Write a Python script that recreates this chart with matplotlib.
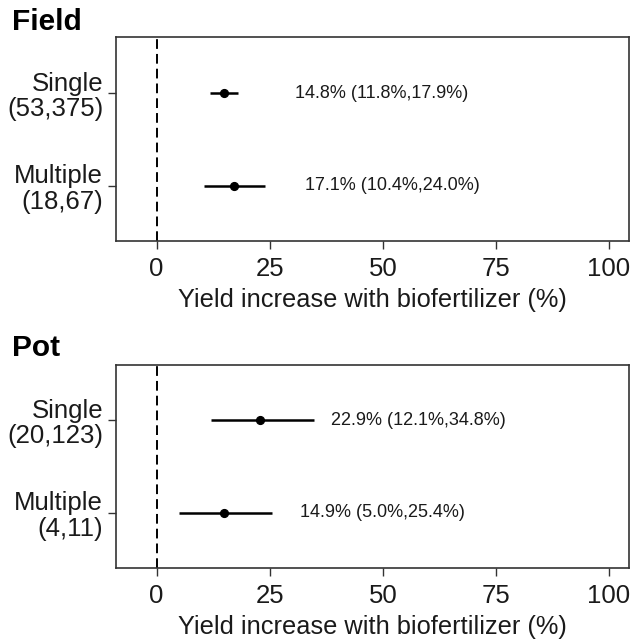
import matplotlib
matplotlib.use("Agg")
import matplotlib.pyplot as plt

plt.rcParams['font.family'] = ['Liberation Sans', 'DejaVu Sans']

# Data
categories = ["Single", "Multiple"]
field_n = ["(53,375)", "(18,67)"]
field_mean = [14.8, 17.1]
field_lo = [11.8, 10.4]
field_hi = [17.9, 24.0]

pot_n = ["(20,123)", "(4,11)"]
pot_mean = [22.9, 14.9]
pot_lo = [12.1, 5.0]
pot_hi = [34.8, 25.4]

xticks = [0, 25, 50, 75, 100]
xlabel = "Yield increase with biofertilizer (%)"

W, H = 631, 641
fig = plt.figure(figsize=(W / 100, H / 100), dpi=100)

ax_h = 0.3175
axes_specs = [
    ("Field", field_n, field_mean, field_lo, field_hi, 0.6240, 0.966),
    ("Pot", pot_n, pot_mean, pot_lo, pot_hi, 0.1134, 0.4576),
]

spine_col = "#333333"
for title, ns, means, los, his, bottom, title_y in axes_specs:
    ax = fig.add_axes([0.1834, bottom, 0.8139, ax_h])
    ys = [2, 1]
    xerr = [[m - l for m, l in zip(means, los)], [h - m for m, h in zip(means, his)]]
    ax.axvline(0, color="black", lw=1.4, linestyle=(0, (5, 2.6)), zorder=1)
    ax.errorbar(means, ys, xerr=xerr, fmt="o", color="black", ms=5.6,
                elinewidth=1.8, capsize=0, zorder=3)
    for m, l, h, y in zip(means, los, his, ys):
        ax.text(m + 35, y, f"{m:.1f}% ({l:.1f}%,{h:.1f}%)", ha="center",
                va="center", fontsize=13, color="#1a1a1a")
    ax.set_xlim(-9.05, 104.5)
    ax.set_ylim(0.4, 2.6)
    ax.set_xticks(xticks)
    ax.set_xticklabels([str(t) for t in xticks])
    ax.set_yticks(ys)
    ax.set_yticklabels([f"{c}\n{n}" for c, n in zip(categories, ns)])
    ax.tick_params(axis="both", labelsize=18.5, length=5.5, width=1.0,
                   color=spine_col, labelcolor="#1a1a1a")
    ax.tick_params(axis="x", pad=6)
    ax.tick_params(axis="y", pad=3.5)
    for lbl in ax.get_yticklabels():
        lbl.set_linespacing(1.08)
    ax.set_xlabel(xlabel, fontsize=18.3, color="#1a1a1a", labelpad=5)
    for s in ax.spines.values():
        s.set_color(spine_col)
        s.set_linewidth(1.2)
    fig.text(0.019, title_y, title, fontsize=21.5, fontweight="bold",
             ha="left", va="center", color="black")

fig.savefig("out.png", dpi=100)
